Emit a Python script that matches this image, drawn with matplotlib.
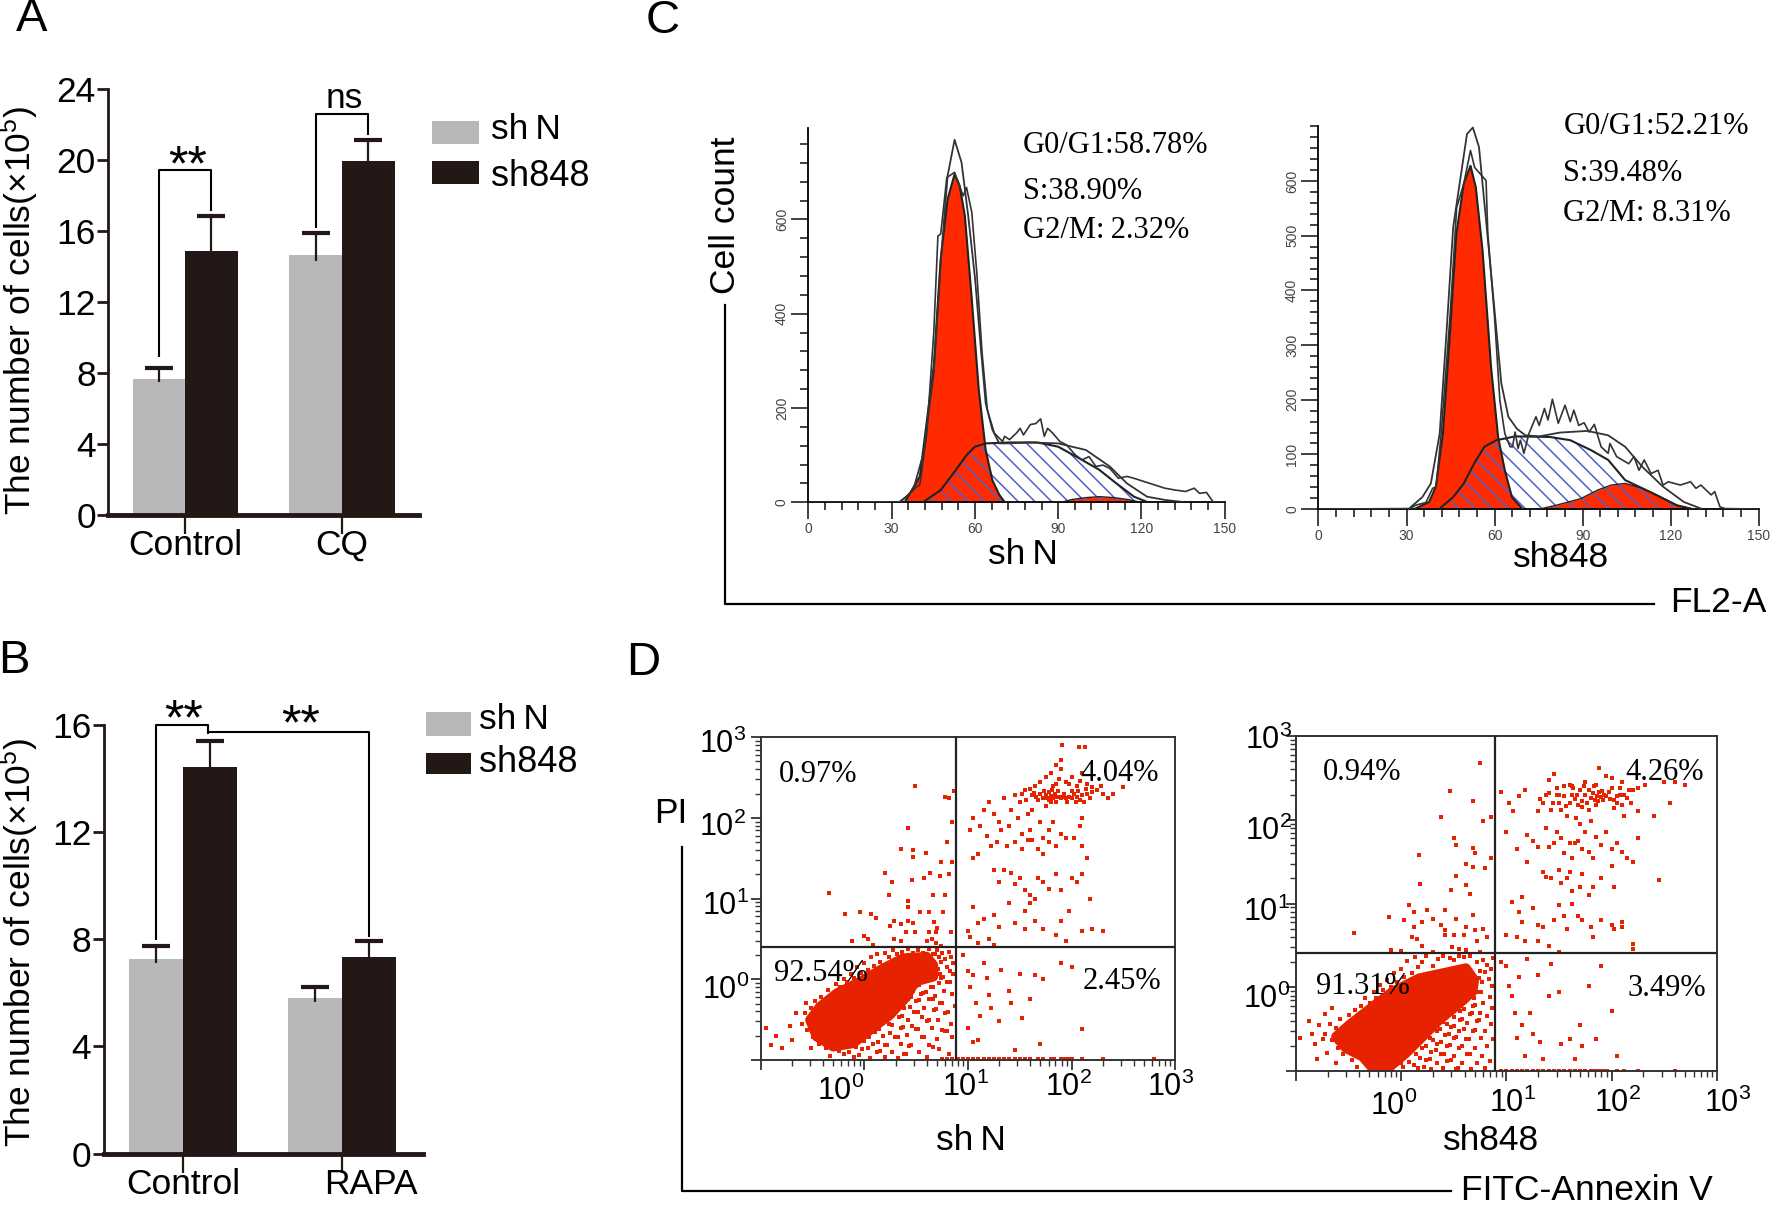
import numpy as np
import matplotlib
matplotlib.use("Agg")
import matplotlib.pyplot as plt
from matplotlib.patches import Rectangle, Polygon
from matplotlib.ticker import NullFormatter
from matplotlib.transforms import ScaledTranslation

plt.rcParams["font.family"] = ["Liberation Sans", "DejaVu Sans"]
plt.rcParams["mathtext.default"] = "regular"
plt.rcParams["hatch.linewidth"] = 1.1

##data - bars
groups_a = ["Control", "CQ"]
shn_a = [7.67, 14.66]
shn_a_err = [0.59, 1.24]
sh848_a = [14.88, 19.94]
sh848_a_err = [1.99, 1.21]

groups_b = ["Control", "RAPA"]
shn_b = [7.26, 5.79]
shn_b_err = [0.5, 0.43]
sh848_b = [14.42, 7.32]
sh848_b_err = [0.99, 0.61]

##data - cell cycle, sh N
n_data_x = [0, 32.8, 35.3, 39, 40.2, 42.7, 45.2, 46.7, 47.7, 49.9, 52.7, 55.8, 57, 58.9, 60.7, 62.6, 64.5, 67, 70, 70.7, 72.5, 75, 76.3, 77.5, 80, 81.9, 83.7, 85, 86.2, 88, 90.6, 93, 96.1, 98.6, 101.1, 103.6, 106.1, 108.6, 111.7, 114.8, 117.3, 121, 124.7, 128.4, 132.2, 135.9, 139, 140.9, 143.4, 145.8, 150]
n_data_y = [0, 1, 12, 33, 37, 147, 360, 565, 569, 689, 700, 650, 668, 615, 487, 317, 196, 147, 129, 140, 133, 147, 157, 143, 165, 167, 177, 140, 157, 147, 129, 122, 101, 90, 97, 76, 79, 72, 51, 55, 51, 44, 37, 30, 26, 23, 30, 19, 21, 1, 0]
n_fit_x = [34, 37.8, 41.5, 45.2, 47.7, 50.2, 52.7, 55.2, 57.6, 60.1, 62, 63.9, 66.3, 68.8, 71.3, 80, 90, 100, 108.6, 114.8, 122, 128.5, 134.7]
n_fit_y = [5, 26, 104, 274, 510, 693, 769, 721, 608, 473, 338, 210, 154, 125, 125, 127, 125, 111, 76, 40, 12, 5, 1]
n_g1_x = [34.7, 40.2, 45.2, 47.7, 50.2, 52.7, 54.5, 56.4, 58.9, 61.4, 63.9, 66.3, 68.8, 70.7]
n_g1_y = [0, 55, 289, 516, 643, 696, 672, 608, 430, 239, 111, 47, 16, 1]
n_s_x = [41.5, 47.7, 52.7, 57, 60, 63.9, 72.5, 82.5, 90, 97.4, 104.8, 111, 117.3, 122]
n_s_y = [1, 26, 65, 100, 118, 125, 127, 127, 118, 94, 69, 40, 12, 1]
n_g2_x = [91, 95, 100, 105, 110, 115, 120]
n_g2_y = [0, 6, 10, 12, 10, 6, 0]

##data - cell cycle, sh848
k_data_x = [0, 31.3, 33, 36.6, 38.9, 40.1, 41.8, 44.8, 47.1, 49.5, 51.8, 53.2, 57.1, 57.7, 60, 61.8, 63.5, 65.3, 66.1, 67, 68, 68.8, 70, 71.7, 74.1, 75.2, 77, 78.2, 79.7, 81.7, 84, 85.8, 87, 88.7, 90.5, 92.2, 94, 96.3, 98.7, 99.3, 101.6, 105.7, 107.5, 109.2, 111, 113.3, 115.7, 117.4, 119.2, 123.3, 126.8, 128.6, 130.3, 133.8, 135, 136.8, 138.5, 150]
k_data_y = [0, 1, 7, 12, 38, 41, 138, 351, 552, 595, 656, 625, 601, 504, 351, 199, 138, 114, 114, 141, 111, 126, 102, 138, 169, 153, 184, 163, 201, 157, 190, 160, 181, 153, 158, 141, 155, 114, 102, 120, 96, 83, 96, 71, 90, 65, 71, 44, 50, 44, 50, 38, 44, 26, 32, 4, 1, 0]
k_fit_x = [31.3, 35.4, 38.3, 41.3, 43.6, 45.9, 50.6, 52.6, 54.7, 57, 60, 62.3, 64.7, 67.6, 70.5, 75.2, 82.3, 91.6, 98.7, 104.5, 110.4, 117.4, 124.5, 130.3]
k_fit_y = [3, 22, 47, 138, 321, 516, 686, 698, 662, 534, 363, 230, 169, 147, 135, 133, 140, 143, 135, 114, 77, 41, 13, 1]
k_g1_x = [33, 37.7, 40, 42.4, 44.8, 47, 49.5, 51.8, 53.6, 55.9, 58.8, 61.2, 63.5, 65.9, 69.4]
k_g1_y = [1, 13, 41, 138, 321, 504, 595, 628, 589, 473, 260, 132, 71, 22, 1]
k_s_x = [41.3, 45.9, 49.5, 53, 56.5, 60.6, 67, 78.8, 85.8, 92.8, 98.7, 104.5, 113.9, 122.1, 126.8]
k_s_y = [1, 22, 47, 83, 114, 126, 133, 132, 126, 108, 90, 53, 29, 7, 1]
k_g2_x = [75.2, 81, 89.3, 95.2, 99.8, 104.5, 110.4, 116.3, 122.1, 126.8]
k_g2_y = [0, 7, 19, 35, 44, 47, 38, 23, 7, 1]

##data - annexin dots, log10 values
n_blob = [(-0.525,-0.504),(-0.429,-0.339),(-0.267,-0.174),(-0.042,-0.03),(0.182,0.136),(0.375,0.26),(0.601,0.28),(0.665,0.177),(0.665,0.032),(0.488,-0.03),(0.408,-0.216),(0.247,-0.442),(0.054,-0.628),(-0.107,-0.793),(-0.3,-0.835),(-0.46,-0.711)]
n_upper = [(1.62,2.28),(1.66,2.26),(1.70,2.3),(1.72,2.24),(1.75,2.28),(1.78,2.32),(1.78,2.22),(1.8,2.27),(1.82,2.25),(1.84,2.3),(1.85,2.2),(1.88,2.26),(1.9,2.24),(1.92,2.26),(1.95,2.24),(1.98,2.26),(2.0,2.24),(2.02,2.3),(2.05,2.26),(2.08,2.22),(2.1,2.28),(2.15,2.3),(2.18,2.25),
    (1.64,2.31),(1.68,2.22),(1.73,2.33),(1.76,2.25),(1.8,2.2),(1.81,2.34),(1.86,2.26),(1.87,2.33),(1.93,2.3),(1.96,2.2),(2.0,2.33),(2.04,2.2),(2.06,2.33),(2.12,2.2),(2.14,2.36),(2.2,2.32),(2.28,2.4),(1.82,2.4),(1.88,2.48),(1.98,2.42),(2.08,2.46),(1.6,2.36),(1.56,2.22),(1.52,2.3),(1.45,2.28),
    (1.7,2.45),(1.75,2.5),(1.8,2.55),(1.85,2.42),(1.9,2.6),(1.95,2.45),(2.0,2.5),(2.05,2.4),(2.1,2.55),(2.15,2.42),(2.2,2.38),(2.25,2.35),(2.3,2.3),(2.35,2.25),(2.4,2.3),(2.5,2.38),(1.91,2.9),(2.07,2.88),(2.13,2.88),(1.9,2.72),(1.85,2.65),
    (1.15,2.1),(1.2,2.2),(1.25,2.05),(1.3,1.95),(1.35,2.25),(1.4,1.9),(1.42,2.1),(1.48,2.0),(1.5,2.2),(1.52,1.8),(1.55,2.35),(1.58,2.05),(1.6,1.85),(1.62,2.1),(1.65,2.4),(1.7,1.95),(1.72,1.75),(1.75,2.15),(1.78,1.85),(1.82,1.95),(1.9,1.8),(1.95,1.75),(1.05,2.0),(1.02,1.85),(1.12,1.9),(1.18,1.78),(1.22,1.65),(1.28,1.7),(1.32,1.85),(1.38,1.65),(1.45,1.7),(1.52,1.62),(1.58,1.72),(1.62,1.72),(1.68,1.62),(1.72,1.55),(1.78,1.7),(1.85,1.65),(2.02,1.75),(2.08,1.9),(2.1,1.65),(2.15,1.5),(2.1,2.0),
    (1.05,1.5),(1.1,1.55),(1.25,1.35),(1.3,1.2),(1.35,1.35),(1.42,1.32),(1.45,1.18),(1.5,1.25),(1.55,1.1),(1.6,1.05),(1.65,1.0),(1.68,1.25),(1.72,1.2),(1.78,1.12),(1.85,1.3),(1.9,1.1),(2.0,1.25),(2.05,1.2),(2.1,1.3),(2.18,1.0),(1.55,0.85),(1.6,0.95),(1.4,0.95),(1.45,0.7),(1.25,0.8),(1.15,0.75),(1.05,0.9),(1.1,0.7),(1.3,0.65),(1.55,0.62),(1.65,0.72),(1.72,0.62),(1.85,0.55),(1.9,0.72),(1.98,0.85),(2.1,0.6),(2.2,0.62),(2.3,0.6),(1.95,0.48),(1.0,0.6),
    (0.485,2.4),(0.417,1.88),(0.35,1.61),(0.468,1.6),(0.468,1.51),(0.593,1.57),(0.795,1.7),(0.737,1.45),(0.85,1.45),(0.2,1.32),(0.266,1.21),(0.458,1.23),(0.58,1.25),(0.636,1.32),(0.727,1.28),(0.82,1.3),(-0.34,1.07),(0.242,1.05),(0.663,1.05),(0.78,1.05),(0.417,0.97),(0.424,0.89),(-0.19,0.81),(-0.044,0.83),(0.064,0.81),(0.108,0.76),(0.535,0.83),(0.62,0.83),(0.76,0.83),(0.815,2.25),(0.862,2.33),(0.78,2.26),(0.85,1.95),
    (0.25,0.66),(0.35,0.69),(0.417,0.72),(0.468,0.7),(0.283,0.72),(0.67,0.71),(0.7,0.64),(0.4,0.58),(0.485,0.58),(0.62,0.58),(0.687,0.58),(0.838,0.59),(0,0.53),(0.03,0.5),(-0.12,0.48),(0.08,0.43),(0.283,0.5),(0.35,0.48),(0.6,0.48),(0.65,0.5),(0.687,0.45),(0.737,0.41),(1.02,0.52),(1.1,0.45),(1.2,0.5),(1.25,0.42)]
n_halo = [(-0.85,-0.7),(-0.8,-0.85),(-0.72,-0.58),(-0.7,-0.75),(-0.66,-0.42),(-0.56,-0.3),(-0.52,-0.85),(-0.95,-0.6),(-0.9,-0.82),
    (0.95,0.3),(1.0,0.1),(1.02,-0.1),(1.05,0.05),(1.08,-0.3),(1.15,0.2),(1.18,0.02),(1.2,-0.2),(1.22,-0.35),(1.0,-0.6),(1.05,-0.78),(1.12,-0.45),(1.1,-0.75),(1.3,-0.52),(1.32,0.12),(1.4,-0.15),(1.42,-0.3),(1.45,-0.88),(1.5,0.06),(1.52,-0.48),(1.6,-0.25),(1.65,0.05),(1.72,0.0),(1.7,-0.8),(1.9,0.2),(2.0,0.15),(2.1,-0.62)]
n_fringe = [(0.52,0.02),(0.56,0.03),(0.6,-0.02),(0.7,0.06),(0.74,0.02),(0.76,0.03),(0.83,0.1),(0.86,0.07),
    (0.5,-0.08),(0.53,-0.07),(0.64,-0.1),(0.66,-0.09),(0.72,-0.05),(0.8,-0.03),(0.83,-0.04),
    (0.44,-0.13),(0.47,-0.15),(0.55,-0.18),(0.57,-0.17),(0.59,-0.16),(0.68,-0.21),(0.77,-0.14),(0.85,-0.18),
    (0.42,-0.24),(0.45,-0.22),(0.5,-0.27),(0.53,-0.26),(0.62,-0.25),(0.64,-0.24),(0.66,-0.24),(0.73,-0.3),(0.75,-0.29),(0.87,-0.33),
    (0.35,-0.33),(0.38,-0.36),(0.44,-0.34),(0.48,-0.41),(0.5,-0.4),(0.52,-0.4),(0.58,-0.36),(0.67,-0.38),(0.69,-0.37),(0.78,-0.42),(0.81,-0.4),
    (0.29,-0.42),(0.33,-0.47),(0.36,-0.45),(0.42,-0.5),(0.56,-0.47),(0.6,-0.52),(0.62,-0.51),(0.71,-0.5),(0.84,-0.55),
    (0.2,-0.52),(0.24,-0.55),(0.27,-0.57),(0.35,-0.6),(0.37,-0.59),(0.46,-0.58),(0.5,-0.62),(0.52,-0.62),(0.65,-0.6),(0.75,-0.63),(0.78,-0.64),(0.8,-0.64),
    (0.1,-0.65),(0.14,-0.62),(0.18,-0.7),(0.25,-0.66),(0.3,-0.72),(0.32,-0.71),(0.41,-0.69),(0.56,-0.72),(0.58,-0.71),(0.7,-0.74),(0.85,-0.72),
    (0.0,-0.76),(0.04,-0.72),(0.08,-0.8),(0.13,-0.78),(0.2,-0.82),(0.22,-0.81),(0.35,-0.8),(0.43,-0.83),(0.45,-0.82),(0.62,-0.82),(0.66,-0.84),(0.72,-0.86),
    (-0.08,-0.84),(-0.02,-0.87),(0.03,-0.85),(0.12,-0.9),(0.15,-0.89),(0.27,-0.9),(0.38,-0.93),(0.4,-0.92),(0.53,-0.9),(0.82,-0.92),
    (-0.25,-0.89),(-0.2,-0.92),(-0.15,-0.9),(-0.1,-0.96),(-0.05,-0.94),(0.05,-0.97),(0.2,-0.96),(0.32,-0.97),(0.6,-0.96),
    (-0.6,-0.55),(-0.57,-0.42),(-0.55,-0.63),(-0.52,-0.36),(-0.5,-0.72),(-0.48,-0.27),(-0.47,-0.45),(-0.44,-0.8),(-0.42,-0.22),(-0.4,-0.3),(-0.37,-0.85),(-0.35,-0.13),(-0.33,-0.95),(-0.3,-0.18),(-0.27,-0.06),(-0.24,-0.1),(-0.2,0.0),(-0.17,-0.04),(-0.13,0.07),(-0.1,0.02),(-0.07,0.15),(-0.03,0.08),(0.0,0.2),(0.03,0.11),(0.06,0.28),(0.09,0.16),(0.12,0.31),(0.15,0.22),(0.2,0.33),(0.24,0.27),(0.28,0.36),(0.31,0.31),(0.36,0.34),(0.42,0.37),(0.47,0.33),(0.52,0.36),(0.57,0.33),(0.62,0.37),(0.66,0.31),(0.7,0.36),(0.72,0.28),(0.74,0.22),(0.75,0.33),(0.78,0.25),(0.8,0.15),(0.82,0.34),(0.84,0.28),(0.86,0.2),(0.71,0.13),(0.73,0.07),(0.68,0.31)]
n_floor = [0.75,0.8,0.85,0.9,0.95,1.0,1.05,1.1,1.15,1.2,1.25,1.3,1.35,1.4,1.45,1.5,1.55,1.6,1.68,1.72,1.8,1.83,1.9,1.93,1.97,2.0,2.1,2.3,2.8]

k_blob = [(-0.619,-0.587),(-0.493,-0.447),(-0.271,-0.229),(-0.081,-0.05),(0.172,0.11),(0.394,0.17),(0.615,0.23),(0.694,0.09),(0.679,-0.05),(0.52,-0.229),(0.362,-0.388),(0.204,-0.587),(0.046,-0.785),(-0.144,-0.984),(-0.271,-0.964),(-0.366,-0.826),(-0.524,-0.726)]
k_upper = [(1.55,2.28),(1.6,2.2),(1.62,2.3),(1.65,2.25),(1.68,2.18),(1.7,2.35),(1.72,2.22),(1.75,2.3),(1.78,2.36),(1.8,2.26),(1.82,2.32),(1.84,2.24),(1.86,2.28),(1.88,2.33),(1.9,2.27),(1.92,2.24),(1.95,2.28),(1.98,2.25),(2.0,2.38),(2.02,2.14),(2.05,2.28),(2.08,2.38),(2.1,2.18),(2.12,2.3),(2.18,2.2),(2.2,2.35),(2.25,2.38),(2.32,2.42),
    (1.5,2.3),(1.57,2.16),(1.63,2.38),(1.67,2.3),(1.72,2.15),(1.74,2.4),(1.77,2.2),(1.83,2.4),(1.85,2.18),(1.87,2.22),(1.91,2.34),(1.93,2.3),(1.97,2.33),(2.02,2.24),(2.05,2.2),(2.08,2.3),(2.15,2.26),(2.16,2.36),(1.35,2.2),(1.44,2.2),(1.48,2.38),(1.4,2.32),
    (0.95,2.33),(1.12,2.28),(1.18,2.35),(1.3,2.1),(1.32,2.25),(1.38,2.3),(1.4,2.48),(1.42,2.12),(1.45,2.55),(1.48,2.3),(1.5,2.2),(1.52,2.12),(1.55,2.4),(1.58,2.05),(1.6,2.42),(1.62,2.4),(1.66,2.02),(1.7,1.95),(1.75,2.45),(1.78,2.12),(1.8,1.98),(1.85,2.42),(1.88,2.62),(1.95,2.52),(2.0,2.5),(2.1,2.45),(2.12,2.05),(2.25,2.1),(2.4,2.05),(2.5,2.45),(2.6,2.45),(2.7,2.42),(2.55,2.2),
    (1.02,2.2),(1.06,2.1),(1.2,1.82),(1.25,1.75),(1.3,1.68),(1.38,1.9),(1.4,1.68),(1.45,1.72),(1.48,1.85),(1.52,1.78),(1.55,1.6),(1.6,1.72),(1.62,1.55),(1.65,1.72),(1.68,1.75),(1.72,1.65),(1.75,1.85),(1.78,1.62),(1.82,1.55),(1.85,1.8),(1.9,1.7),(1.95,1.85),(2.0,1.65),(2.05,1.72),(2.1,1.62),(2.15,1.55),(2.2,1.5),(2.25,1.78),
    (1.0,1.85),(1.1,1.65),(1.2,1.5),(1.35,1.38),(1.38,1.32),(1.42,1.3),(1.5,1.4),(1.52,1.25),(1.58,1.3),(1.6,1.38),(1.62,1.15),(1.7,1.2),(1.72,1.35),(1.78,1.1),(1.82,1.2),(1.9,1.3),(2.0,1.45),(2.02,1.2),(2.45,1.28),
    (1.05,1.02),(1.12,0.9),(1.15,1.08),(1.25,0.95),(1.3,0.75),(1.35,0.72),(1.45,0.8),(1.5,0.98),(1.55,0.85),(1.62,1.0),(1.68,0.85),(1.72,0.8),(1.8,0.72),(1.82,0.6),(1.9,0.8),(2.0,0.75),(2.02,0.7),(2.1,0.72),(2.1,0.78),(2.2,0.52),(2.2,0.46),(1.58,0.7),(1.0,0.62),(1.1,0.6),(1.18,0.55),(1.3,0.55),(1.4,0.5),(1.5,0.42),(1.15,0.78),
    (0.75,2.68),(0.46,2.34),(0.68,2.23),(0.38,2.03),(0.85,2.03),(0.78,1.98),(0.5,1.78),(0.52,1.7),(0.68,1.66),(0.7,1.6),(0.85,1.55),(0.17,1.58),(0.62,1.47),(0.68,1.44),(0.8,1.42),(0.52,1.33),(0.18,1.23),(0.47,1.16),(0.62,1.22),(0.65,1.12),(0.07,0.98),(0.12,0.9),(0.25,0.92),(0.3,0.82),(0.42,0.92),(0.52,0.82),(0.68,0.86),(-0.12,0.84),(0.03,0.8),(0.12,0.72),(0.2,0.78),(0.38,0.75),(0.42,0.68),(0.62,0.72),(0.7,0.68),(0.78,0.7),(0.1,0.6),(0.15,0.58),(0.42,0.62),(0.5,0.62),(0.6,0.62),(0.72,0.55),(0.82,0.6),(-0.45,0.65),(-0.1,0.45),(0.0,0.44),(0.2,0.5),(0.3,0.42),(0.48,0.48),(0.55,0.46),(0.62,0.45),(0.75,0.42)]
k_halo = [(-0.96,-0.6),(-0.88,-0.4),(-0.85,-0.55),(-0.82,-0.68),(-0.8,-0.85),(-0.78,-0.45),(-0.74,-0.62),(-0.72,-0.32),(-0.7,-0.78),(-0.66,-0.24),(-0.62,-0.9),
    (0.95,0.3),(1.0,0.25),(1.02,0.02),(1.05,-0.1),(1.08,-0.3),(1.1,-0.6),(1.12,0.12),(1.15,-0.45),(1.18,-0.82),(1.2,0.34),(1.22,-0.3),(1.25,-0.55),(1.3,0.15),(1.32,-0.65),(1.35,-0.85),(1.4,-0.1),(1.42,0.28),(1.5,-0.05),(1.52,-0.68),(1.6,-0.62),(1.65,-0.85),(1.7,-0.45),(1.72,-0.7),(1.78,0.02),(1.85,-0.62),(1.9,0.25),(2.0,-0.28),(2.05,-0.82)]
k_fringe = [(0.7,0.04),(0.74,0.11),(0.77,0.06),(0.8,0.18),(0.83,0.1),(0.86,0.02),(0.72,0.3),(0.75,0.2),(0.78,0.33),(0.82,0.27),(0.85,0.22),(0.87,0.35),
    (0.62,-0.1),(0.65,-0.08),(0.69,-0.13),(0.73,-0.06),(0.76,-0.05),(0.84,-0.11),(0.58,-0.18),(0.61,-0.17),(0.68,-0.22),(0.7,-0.21),(0.78,-0.18),(0.86,-0.24),
    (0.53,-0.25),(0.56,-0.28),(0.6,-0.26),(0.65,-0.32),(0.67,-0.31),(0.75,-0.3),(0.82,-0.34),(0.47,-0.32),(0.5,-0.35),(0.56,-0.39),(0.58,-0.38),(0.63,-0.42),(0.72,-0.4),(0.74,-0.39),(0.85,-0.44),
    (0.4,-0.41),(0.44,-0.44),(0.47,-0.47),(0.5,-0.46),(0.55,-0.52),(0.6,-0.5),(0.68,-0.52),(0.7,-0.51),(0.8,-0.52),(0.34,-0.52),(0.37,-0.5),(0.42,-0.57),(0.45,-0.55),(0.5,-0.6),(0.52,-0.59),(0.62,-0.62),(0.64,-0.61),(0.76,-0.6),(0.87,-0.62),
    (0.27,-0.6),(0.3,-0.63),(0.34,-0.67),(0.38,-0.65),(0.44,-0.7),(0.46,-0.69),(0.55,-0.72),(0.58,-0.7),(0.7,-0.72),(0.82,-0.7),(0.2,-0.72),(0.24,-0.7),(0.28,-0.77),(0.33,-0.75),(0.38,-0.8),(0.41,-0.79),(0.5,-0.82),(0.63,-0.8),(0.65,-0.79),(0.77,-0.82),
    (0.14,-0.8),(0.18,-0.84),(0.24,-0.86),(0.27,-0.85),(0.34,-0.9),(0.44,-0.88),(0.47,-0.87),(0.58,-0.9),(0.72,-0.9),(0.84,-0.88),(0.07,-0.89),(0.12,-0.92),(0.16,-0.96),(0.22,-0.95),(0.28,-0.97),(0.4,-0.96),(0.52,-0.97),(0.54,-0.96),(0.66,-0.97),(0.8,-0.96),(0.02,-0.95),(0.0,-0.9),
    (-0.72,-0.55),(-0.68,-0.44),(-0.66,-0.63),(-0.62,-0.48),(-0.6,-0.72),(-0.58,-0.38),(-0.56,-0.56),(-0.55,-0.8),(-0.5,-0.33),(-0.48,-0.42),(-0.47,-0.87),(-0.44,-0.27),(-0.42,-0.95),(-0.4,-0.76),(-0.38,-0.22),(-0.35,-0.84),(-0.34,-0.13),(-0.31,-0.92),(-0.3,-0.18),(-0.26,-0.05),(-0.24,-0.13),(-0.2,0.03),(-0.17,-0.03),(-0.13,0.09),(-0.1,0.0),(-0.07,0.17),(-0.04,0.06),(0.0,0.22),(0.03,0.12),(0.06,0.32),(0.1,0.17),(0.13,0.36),(0.16,0.24),(0.2,0.3),(0.24,0.37),(0.3,0.26),(0.35,0.34),(0.4,0.38),(0.46,0.35),(0.5,0.33),(0.55,0.38),(0.6,0.36),(0.65,0.38)]
k_floor = [0.95,1.0,1.05,1.1,1.15,1.2,1.25,1.3,1.35,1.4,1.45,1.5,1.55,1.6,1.65,1.7,1.75,1.8,1.83,1.86,1.9,1.93,1.96,2.05,2.12,2.25,2.6]

##layout helpers, positions are in the 1568 wide coordinates of the reference
W, H = 1770, 1205
S = W / 1568
GRAY, DARK, RED, HIST_RED, BLUE = "#b8b8ba", "#231815", "#e62200", "#ff2a00", "#5060c8"

fig = plt.figure(figsize=(W / 100, H / 100), dpi=100)

def px_axes(l, t, r, b):
	return fig.add_axes([l * S / W, 1 - b * S / H, (r - l) * S / W, (b - t) * S / H])

def label(x, y, s, size=25.5, **kw):
	kw.setdefault("ha", "center")
	kw.setdefault("va", "center")
	if kw.get("rotation"):
		x += 2
	else:
		y += 2.5
	return fig.text(x * S / W, 1 - y * S / H, s, fontsize=size, **kw)

def guide(xs, ys, lw=1.6):
	fig.add_artist(plt.Line2D([x * S / W for x in xs], [1 - y * S / H for y in ys], color="black", lw=lw))

def swatch(l, t, r, b, color):
	fig.add_artist(Rectangle((l * S / W, 1 - b * S / H), (r - l) * S / W, (b - t) * S / H, transform=fig.transFigure, color=color, lw=0))

##bars
def bars(ax, gray, gray_err, black, black_err, names, w, ticks):
	x = np.arange(len(names))
	ax.bar(x - w / 2, gray, w, color=GRAY, zorder=2)
	ax.bar(x + w / 2, black, w, color=DARK, zorder=2)
	for xs, vals, errs in ((x - w / 2, gray, gray_err), (x + w / 2, black, black_err)):
		vals, errs = np.array(vals), np.array(errs)
		ax.vlines(xs, vals - errs * 0.3, vals + errs, color=DARK, lw=1.6, zorder=3)
		ax.plot(xs, vals + errs, ls="", marker="_", ms=20, mew=3, color=DARK, zorder=3)
	ax.set_xticks(x)
	ax.set_xticklabels(names, fontsize=25.5)
	ax.set_yticks(ticks)
	ax.tick_params(axis="y", labelsize=25.5, length=8, width=2, color=DARK, pad=1)
	ax.tick_params(axis="x", length=14, width=1.6, color=DARK, pad=-4)
	ax.spines[["top", "right"]].set_visible(False)
	ax.spines["left"].set_linewidth(2)
	ax.spines["left"].set_color(DARK)
	ax.spines["bottom"].set_linewidth(3.5)
	ax.spines["bottom"].set_color(DARK)

ax_a = px_axes(96, 79, 371, 456)
bars(ax_a, shn_a, shn_a_err, sh848_a, sh848_a_err, groups_a, 0.335, [0, 4, 8, 12, 16, 20, 24])
ax_a.set_xlim(-0.489, 1.489)
ax_a.set_ylim(0, 24)
ax_a.plot([-0.1675, -0.1675, 0.1675, 0.1675], [8.97, 19.46, 19.46, 17.2], color="black", lw=1.5, zorder=4)
ax_a.plot([0.8325, 0.8325, 1.1675, 1.1675], [16.2, 22.6, 22.6, 21.5], color="black", lw=1.5, zorder=4, clip_on=False)

ax_b = px_axes(92, 642, 375, 1022)
bars(ax_b, shn_b, shn_b_err, sh848_b, sh848_b_err, groups_b, 0.337, [0, 4, 8, 12, 16])
ax_b.set_xlim(-0.496, 1.51)
ax_b.set_ylim(0, 16)
ax_b.plot([-0.1685, -0.1685, 0.16, 0.16], [8.0, 16, 16, 15.7], color="black", lw=1.5, zorder=4, clip_on=False)
ax_b.plot([0.16, 1.1685, 1.1685], [15.72, 15.72, 8.13], color="black", lw=1.5, zorder=4)
rapa = ax_b.get_xticklabels()[1]
rapa.set_transform(rapa.get_transform() + ScaledTranslation(0.29, 0, fig.dpi_scale_trans))

ylab = "The number of cells(×10$^{5}$)"
label(15, 275, ylab, rotation=90)
label(15, 835, ylab, rotation=90)
label(166, 146, "**", size=36)
label(305, 85, "ns")
label(163, 637, "**", size=36)
label(266, 641, "**", size=36)
swatch(383, 107, 424, 128, GRAY)
swatch(383, 143, 424, 163, DARK)
label(435, 112, "sh\u2009N", ha="left")
label(435, 154, "sh848", ha="left", size=26)
swatch(377, 631, 417, 652, GRAY)
swatch(377, 667, 417, 686, DARK)
label(424, 635, "sh\u2009N", ha="left")
label(424, 673, "sh848", ha="left", size=26)

##cell cycle
def cycle(ax, data, fit, g1, s, g2, ytop, ymajor, yminor):
	ax.fill_between(g1[0], g1[1], color=HIST_RED, lw=0, zorder=1)
	ax.fill_between(g2[0], g2[1], color=HIST_RED, lw=0, zorder=1)
	ax.fill_between(s[0], s[1], facecolor="none", edgecolor=BLUE, hatch="\\\\", lw=0, zorder=2)
	ax.plot(g1[0], g1[1], color="#222222", lw=1.5, zorder=3)
	ax.plot(s[0], s[1], color="#222222", lw=1.5, zorder=3)
	ax.plot(g2[0], g2[1], color="#222222", lw=1, zorder=3)
	ax.plot(fit[0], fit[1], color="#333333", lw=1.3, zorder=3)
	ax.plot(data[0], data[1], color="#333333", lw=1.2, zorder=3)
	ax.set_xlim(0, 150)
	ax.set_ylim(0, ytop)
	ax.set_xticks(range(0, 151, 30))
	ax.set_xticks(range(0, 151, 6), minor=True)
	ax.set_yticks(ymajor)
	ax.set_yticks(yminor, minor=True)
	ax.tick_params(which="major", length=12, width=1.3, color="#333333", labelsize=10, labelcolor="#444444", pad=2)
	ax.tick_params(which="minor", length=6, width=1.3, color="#333333")
	ax.tick_params(axis="y", which="major", pad=2, labelrotation=90)
	for lab in ax.get_yticklabels():
		lab.set_va("center")
	ax.spines[["top", "right"]].set_visible(False)
	ax.spines[["left", "bottom"]].set_linewidth(1.3)
	ax.patch.set_alpha(0)

ax_c1 = px_axes(716, 113, 1085, 445)
cycle(ax_c1, (n_data_x, n_data_y), (n_fit_x, n_fit_y), (n_g1_x, n_g1_y), (n_s_x, n_s_y), (n_g2_x, n_g2_y), 795, [0, 200, 400, 600], list(range(0, 800, 40)))
ax_c2 = px_axes(1168, 112, 1558, 451)
cycle(ax_c2, (k_data_x, k_data_y), (k_fit_x, k_fit_y), (k_g1_x, k_g1_y), (k_s_x, k_s_y), (k_g2_x, k_g2_y), 700, [0, 100, 200, 300, 400, 500, 600], list(range(0, 701, 20)))

for y, s in zip([126, 167, 202], ["G0/G1:58.78%", "S:38.90%", "G2/M:\u20092.32%"]):
	label(906, y, s, size=22, ha="left", family="Liberation Serif")
for y, s in zip([110, 151, 187], ["G0/G1:52.21%", "S:39.48%", "G2/M: 8.31%"]):
	label(1385, y, s, size=22, ha="left", family="Liberation Serif")
label(906, 489, "sh\u2009N")
label(1383, 491, "sh848")
label(641, 191, "Cell count", rotation=90)
label(1522, 531, "FL2-A")
guide([642, 642, 1465], [270, 535, 535])

##annexin
def annexin(ax, blob, upper, halo, fringe, floor, gate_x, gate_y):
	ax.set_xscale("log")
	ax.set_yscale("log")
	ax.set_xlim(0.1, 1000)
	ax.set_ylim(0.1, 1000)
	# edge widens the solid core out to where the reference stops being solid
	ax.add_patch(Polygon(10 ** np.array(blob), closed=True, facecolor=RED, edgecolor=RED, lw=7, joinstyle="round", zorder=2))
	pts = 10 ** np.array(upper + halo + fringe)
	ax.plot(pts[:, 0], pts[:, 1], ls="", marker="s", ms=2.3, mew=0, color=RED, zorder=2)
	ax.plot(10 ** np.array(floor), [0.102] * len(floor), ls="", marker="s", ms=2.6, mew=0, color=RED, zorder=2)
	ax.axvline(10 ** gate_x, color="#222222", lw=1.6, zorder=3)
	ax.axhline(10 ** gate_y, color="#222222", lw=1.6, zorder=3)
	subs = [2, 3, 4, 5, 6, 7, 8, 9]
	ax.xaxis.set_major_locator(matplotlib.ticker.LogLocator(base=10, numticks=6))
	ax.xaxis.set_minor_locator(matplotlib.ticker.LogLocator(base=10, subs=subs, numticks=6))
	ax.yaxis.set_major_locator(matplotlib.ticker.LogLocator(base=10, numticks=6))
	ax.yaxis.set_minor_locator(matplotlib.ticker.LogLocator(base=10, subs=subs, numticks=6))
	ax.xaxis.set_major_formatter(NullFormatter())
	ax.yaxis.set_major_formatter(NullFormatter())
	ax.xaxis.set_minor_formatter(NullFormatter())
	ax.yaxis.set_minor_formatter(NullFormatter())
	ax.tick_params(which="major", length=7, width=1.3, color="#333333")
	ax.tick_params(which="minor", length=4, width=1, color="#333333")
	for sp in ax.spines.values():
		sp.set_linewidth(1.4)
		sp.set_color("#333333")

ax_d1 = px_axes(674, 653, 1041, 939)
annexin(ax_d1, n_blob, n_upper, n_halo, n_fringe, n_floor, 0.889, 0.405)
ax_d2 = px_axes(1148, 652, 1521, 949)
annexin(ax_d2, k_blob, k_upper, k_halo, k_fringe, k_floor, 0.888, 0.407)

for x, y, s in [(725, 684, "0.97%"), (992, 683, "4.04%"), (727, 860, "92.54%"), (994, 867, "2.45%"),
		(1207, 682, "0.94%"), (1475, 682, "4.26%"), (1207, 871, "91.31%"), (1477, 873, "3.49%")]:
	label(x, y, s, size=22, family="Liberation Serif")

decade = ["10$^{0}$", "10$^{1}$", "10$^{2}$", "10$^{3}$"]
for x, y, s in zip([745, 855, 947, 1037], [964, 961, 961, 961], decade):
	label(x, y, s, size=22)
for x, y, s in zip([643, 643, 640, 640], [875, 800, 730, 657], decade):
	label(x, y, s, size=22)
for x, y, s in zip([1235, 1340, 1433, 1530], [978, 975, 975, 975], decade):
	label(x, y, s, size=22)
for x, y, s in zip([1122, 1122, 1124, 1124], [883, 806, 734, 653], decade):
	label(x, y, s, size=22)

label(860, 1008, "sh\u2009N")
label(1321, 1008, "sh848")
label(594, 718, "PI")
label(1406, 1052, "FITC-Annexin V")
guide([604, 604, 1285], [750, 1055, 1055])

label(28, 14, "A", size=34)
label(12, 583, "B", size=34)
label(587, 16, "C", size=34)
label(570, 585, "D", size=34)

fig.savefig("out.png", dpi=100)
